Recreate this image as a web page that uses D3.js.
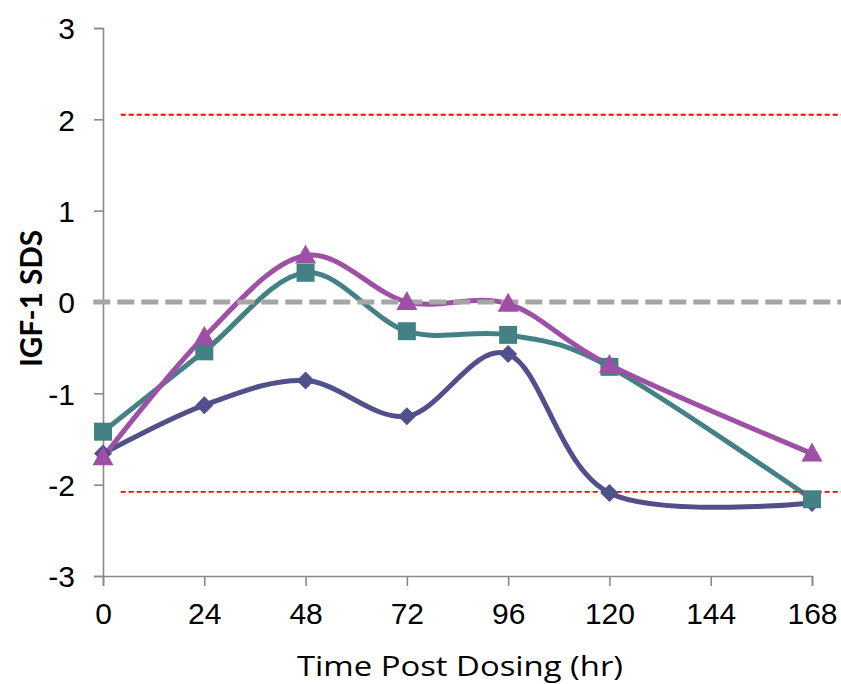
<!DOCTYPE html>
<html>
<head>
<meta charset="utf-8">
<script src="https://cdn.jsdelivr.net/npm/d3@7/dist/d3.min.js"></script>
<style>
  html, body { margin: 0; padding: 0; background: #fff; }
  svg { display: block; }
</style>
</head>
<body>
<svg id="chart" width="841" height="684"></svg>
<script>
// ---- data ----
const hours = [0, 24, 48, 72, 96, 120, 168];
const xTicks = [0, 24, 48, 72, 96, 120, 144, 168];
const yTicks = [-3, -2, -1, 0, 1, 2, 3];
const seriesDiamond = [-1.66, -1.13, -0.86, -1.25, -0.57, -2.09, -2.2];
const seriesSquare = [-1.42, -0.54, 0.32, -0.32, -0.36, -0.71, -2.16];
const seriesTriangle = [-1.7, -0.38, 0.51, 0.0, -0.02, -0.69, -1.66];
const zeroLineX = [-2.3, 176];
const zeroLineY = [0, 0];
const upperLimitX = [4.2, 176];
const upperLimitY = [2.05, 2.05];
const lowerLimitX = [4.2, 176];
const lowerLimitY = [-2.08, -2.08];
const xTitle = "Time Post Dosing (hr)";
const yTitle = "IGF-1 SDS";

// ---- setup ----
const svg = d3.select("#chart");
const x = d3.scaleLinear().domain([0, 168]).range([103, 812]);
const y = d3.scaleLinear().domain([-3, 3]).range([576, 28]);
const axisColor = "#898989";

// axes
const fmt = d => String(d);
const yAxis = svg.append("g").attr("transform", `translate(${x(0)},0)`)
  .call(d3.axisLeft(y).tickValues(yTicks).tickSize(9).tickPadding(19).tickFormat(fmt));
const xAxis = svg.append("g").attr("transform", `translate(0,${y(-3)})`)
  .call(d3.axisBottom(x).tickValues(xTicks).tickSize(10).tickPadding(17).tickFormat(fmt));
[yAxis, xAxis].forEach(g => {
  g.select(".domain").attr("stroke", axisColor).attr("stroke-width", 1.6);
  g.selectAll(".tick line").attr("stroke", axisColor).attr("stroke-width", 1.6);
  g.selectAll(".tick text").attr("fill", "#000")
    .style("font-family", "'Liberation Sans', Arial, sans-serif").style("font-size", "30px");
});
yAxis.selectAll(".tick text").attr("dy", "0.36em");

// series lines
const series = [
  { vals: seriesDiamond, color: "#51508B", shape: "diamond" },
  { vals: seriesSquare, color: "#438184", shape: "square" },
  { vals: seriesTriangle, color: "#9E4FA6", shape: "triangle" }
];
const line = d3.line().x(d => x(d[0])).y(d => y(d[1])).curve(d3.curveCardinal.tension(0));
series.forEach(s => {
  svg.append("path")
    .attr("d", line(hours.map((h, i) => [h, s.vals[i]])))
    .attr("fill", "none").attr("stroke", s.color).attr("stroke-width", 5)
    .attr("stroke-linejoin", "round").attr("stroke-linecap", "round");
});

// reference lines
const straight = d3.line().x(d => x(d[0])).y(d => y(d[1]));
svg.append("path")
  .attr("d", straight(zeroLineX.map((v, i) => [v, zeroLineY[i]])))
  .attr("stroke", "#A6A6A6").attr("stroke-width", 5).attr("stroke-dasharray", "17,7").attr("fill", "none");
[[upperLimitX, upperLimitY], [lowerLimitX, lowerLimitY]].forEach(([xs, ys]) => {
  svg.append("path")
    .attr("d", straight(xs.map((v, i) => [v, ys[i]])))
    .attr("stroke", "#FF0000").attr("stroke-width", 1.8).attr("stroke-dasharray", "5,3").attr("fill", "none");
});

// markers
const shapes = {
  diamond: "M0,-9L9,0L0,9L-9,0Z",
  square: "M-9,-9H9V9H-9Z",
  triangle: "M0,-11L10.5,8L-10.5,8Z"
};
series.forEach(s => {
  svg.append("g").selectAll("path").data(hours.map((h, i) => [h, s.vals[i]]))
    .join("path")
    .attr("d", shapes[s.shape])
    .attr("transform", d => `translate(${x(d[0])},${y(d[1])})`)
    .attr("fill", s.color);
});

// titles
svg.append("text")
  .attr("x", 460).attr("y", 676).attr("text-anchor", "middle")
  .attr("textLength", 326).attr("lengthAdjust", "spacingAndGlyphs")
  .style("font-family", "'Open Sans', Lato, sans-serif").style("font-size", "28px").attr("fill", "#000")
  .text(xTitle);
svg.append("text")
  .attr("transform", "translate(42,298.5) rotate(-90)").attr("text-anchor", "middle")
  .attr("textLength", 137).attr("lengthAdjust", "spacingAndGlyphs")
  .style("font-family", "Lato, 'Open Sans', sans-serif").style("font-size", "31px").style("font-weight", "bold").attr("fill", "#000")
  .text(yTitle);
</script>
</body>
</html>
